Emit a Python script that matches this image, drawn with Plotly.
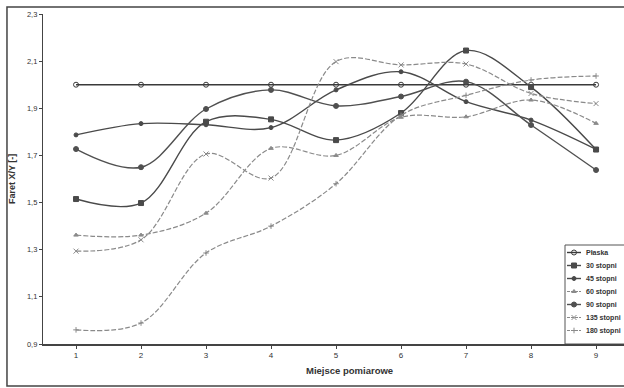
import plotly.graph_objects as go

x_vals = [1, 2, 3, 4, 5, 6, 7, 8, 9]
series_names = ["Płaska", "30 stopni", "45 stopni", "60 stopni", "90 stopni", "135 stopni", "180 stopni"]
plaska = [2.0, 2.0, 2.0, 2.0, 2.0, 2.0, 2.0, 2.0, 2.0]
s30 = [1.515, 1.498, 1.843, 1.853, 1.765, 1.88, 2.145, 1.99, 1.725]
s45 = [1.787, 1.835, 1.83, 1.818, 1.978, 2.055, 1.928, 1.85, 1.726]
s60 = [1.362, 1.362, 1.455, 1.73, 1.70, 1.862, 1.864, 1.935, 1.836]
s90 = [1.727, 1.65, 1.897, 1.978, 1.91, 1.95, 2.013, 1.829, 1.638]
s135 = [1.294, 1.342, 1.706, 1.604, 2.098, 2.084, 2.088, 1.963, 1.92]
s180 = [0.96, 0.989, 1.286, 1.40, 1.58, 1.87, 1.955, 2.02, 2.037]
y_ticks = [0.9, 1.1, 1.3, 1.5, 1.7, 1.9, 2.1, 2.3]

data = [plaska, s30, s45, s60, s90, s135, s180]
styles = [
    dict(color="#3a3a3a", dash="solid", width=1.4, symbol="circle-open", size=5),
    dict(color="#4a4a4a", dash="solid", width=1.4, symbol="square", size=5),
    dict(color="#4a4a4a", dash="solid", width=1.4, symbol="circle", size=4),
    dict(color="#8a8a8a", dash="5px,2px", width=1.2, symbol="triangle-up", size=4),
    dict(color="#505050", dash="solid", width=1.4, symbol="circle", size=5),
    dict(color="#8a8a8a", dash="5px,2px", width=1.2, symbol="x-thin-open", size=5),
    dict(color="#8a8a8a", dash="5px,2px", width=1.2, symbol="cross-thin-open", size=4),
]

# plot area in pixels: x 43..624, y 14..344
def px(xpix):
    return (xpix - 43) / 581.0

def py(ypix):
    return (344 - ypix) / 330.0

fig = go.Figure()
for name, ys, st in zip(series_names, data, styles):
    fig.add_trace(go.Scatter(
        x=x_vals, y=ys, name=name, mode="lines+markers", showlegend=False,
        line=dict(color=st["color"], dash=st["dash"], width=st["width"], shape="spline", smoothing=1.0),
        marker=dict(symbol=st["symbol"], size=st["size"], color=st["color"],
                    line=dict(color=st["color"], width=1)),
    ))

# manual compact legend (as in the reference)
shapes = [
    dict(type="rect", xref="paper", yref="paper",
         x0=-0.062, x1=1.03, y0=-0.127, y1=1.021,
         line=dict(color="#444444", width=1.5), fillcolor="rgba(0,0,0,0)", layer="below"),
    dict(type="rect", xref="paper", yref="paper",
         x0=px(565), x1=px(640), y0=py(344), y1=py(245),
         line=dict(color="#555555", width=1), fillcolor="white", layer="below"),
]
annotations = []
leg_y0 = 252.5
leg_dy = 13.0
for i, (name, st) in enumerate(zip(series_names, styles)):
    ypix = leg_y0 + i * leg_dy
    shapes.append(dict(type="line", xref="paper", yref="paper",
                       x0=px(567), x1=px(581), y0=py(ypix), y1=py(ypix),
                       line=dict(color=st["color"], width=st["width"],
                                 dash="solid" if st["dash"] == "solid" else "3px,1px"),
                       layer="below"))
    annotations.append(dict(text="<b>" + name + "</b>", xref="paper", yref="paper", x=px(584), y=py(ypix),
                            xanchor="left", yanchor="middle", showarrow=False,
                            font=dict(size=7, color="#333333")))
    fig.add_trace(go.Scatter(
        x=[px(574)], y=[py(ypix)], xaxis="x2", yaxis="y2", mode="markers", showlegend=False,
        hoverinfo="skip", cliponaxis=False,
        marker=dict(symbol=st["symbol"], size=st["size"], color=st["color"],
                    line=dict(color=st["color"], width=1)),
    ))

annotations += [
    dict(text="<b>Faret X/Y [-]</b>", xref="paper", yref="paper",
         x=px(12), y=0.5, textangle=-90, showarrow=False,
         font=dict(size=9, color="#333333"), xanchor="center", yanchor="middle"),
    dict(text="<b>Miejsce pomiarowe</b>", xref="paper", yref="paper",
         x=px(349), y=py(370), showarrow=False,
         font=dict(size=9.5, color="#333333"), xanchor="center", yanchor="middle"),
]

fig.update_layout(
    width=624, height=388,
    margin=dict(l=43, r=0, t=14, b=44, autoexpand=False),
    paper_bgcolor="white", plot_bgcolor="white",
    separators=", ",
    font=dict(family="Liberation Sans, Arial, sans-serif", color="#333333"),
    showlegend=False,
    xaxis=dict(
        range=[0.492, 9.43], tickvals=x_vals, ticktext=[str(v) for v in x_vals],
        showgrid=False, zeroline=False, showline=True, linecolor="#444444", linewidth=1.5,
        ticks="outside", ticklen=3, tickcolor="#444444",
        tickfont=dict(size=8, color="#333333"),
    ),
    yaxis=dict(
        range=[0.9, 2.3], tickvals=y_ticks, tickformat=".1f",
        showgrid=False, zeroline=False, showline=True, linecolor="#444444", linewidth=1.2,
        ticks="outside", ticklen=3, tickcolor="#444444",
        tickfont=dict(size=7.5, color="#333333"),
    ),
    xaxis2=dict(domain=[0, 1], range=[0, 1], visible=False, anchor="y2", overlaying="x"),
    yaxis2=dict(domain=[0, 1], range=[0, 1], visible=False, anchor="x2", overlaying="y"),
    shapes=shapes,
    annotations=annotations,
)

fig.write_html("out.html", config={"displayModeBar": False},
               post_script="document.body.style.margin='0';document.body.style.padding='0';document.body.style.overflow='hidden';")
